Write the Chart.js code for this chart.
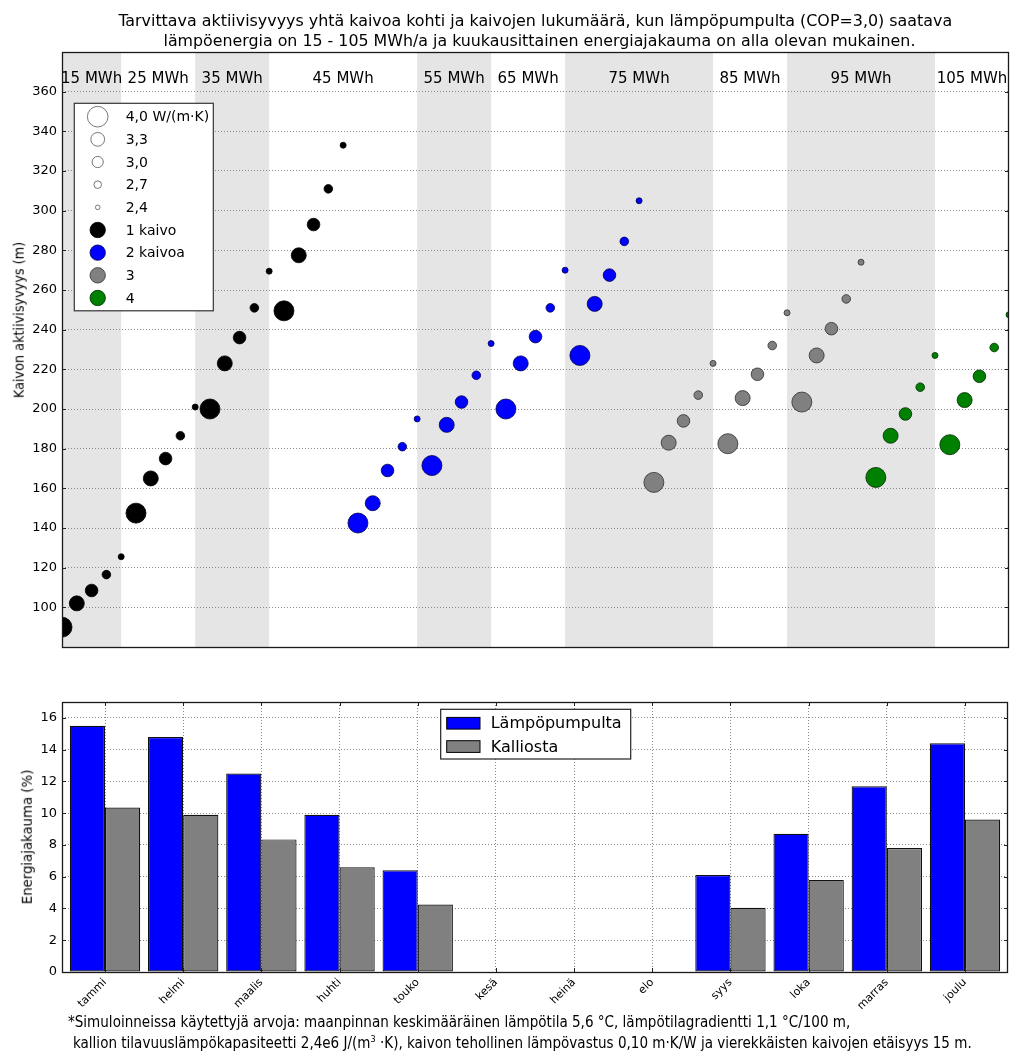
<!DOCTYPE html>
<html><head><meta charset="utf-8">
<script src="https://cdn.jsdelivr.net/npm/chart.js@4.4.1/dist/chart.umd.min.js"></script>
<style>
html,body{margin:0;padding:0;background:#fff;}
body{width:1024px;height:1057px;position:relative;overflow:hidden;}
canvas{position:absolute;left:0;}
.t{position:absolute;white-space:nowrap;color:#000;font-family:"DejaVu Sans Condensed","Liberation Sans Narrow","DejaVu Sans",sans-serif;font-stretch:condensed;line-height:1;left:0;top:0;}
.sp{font-size:60%;position:relative;top:-0.6em;}
</style></head><body>
<canvas id="top" width="1024" height="660" style="top:0"></canvas>
<canvas id="bot" width="1024" height="397" style="top:660px"></canvas>

<span class="t" data-w="834" data-cx="535" data-cy="21" style="font-size:16.5px">Tarvittava aktiivisyvyys yhtä kaivoa kohti ja kaivojen lukumäärä, kun lämpöpumpulta (COP=3,0) saatava</span>
<span class="t" data-w="752" data-cx="539" data-cy="41" style="font-size:16.5px">lämpöenergia on 15 - 105 MWh/a ja kuukausittainen energiajakauma on alla olevan mukainen.</span>
<span class="t" data-w="156" data-cx="18" data-cy="320" data-rot="-90" style="font-size:14px">Kaivon aktiivisyvyys (m)</span>
<span class="t" data-w="135" data-cx="27" data-cy="837" data-rot="-90" style="font-size:14px">Energiajakauma (%)</span>
<span class="t" data-w="782" data-lx="68" data-cy="1022" style="font-size:15px">*Simuloinneissa käytettyjä arvoja: maanpinnan keskimääräinen lämpötila 5,6 °C, lämpötilagradientti 1,1 °C/100 m,</span>
<span class="t" data-w="899" data-lx="73" data-cy="1043" style="font-size:15px">kallion tilavuuslämpökapasiteetti 2,4e6 J/(m<span class="sp">3</span> ·K), kaivon tehollinen lämpövastus 0,10 m·K/W ja vierekkäisten kaivojen etäisyys 15 m.</span>

<script>
// ---------------- DATA ----------------
const energyLevels = [15, 25, 35, 45, 55, 65, 75, 85, 95, 105];          // MWh/a
const conductivities = ['4,0 W/(m·K)', '3,3', '3,0', '2,7', '2,4'];
const wellLabels = ['1 kaivo', '2 kaivoa', '3', '4'];
// Each block = five points (one per conductivity), in plotting order
const blockEnergy = [15, 25, 35, 45, 45, 55, 65, 75, 75, 85, 95, 95, 105];
const blockWells  = [1, 1, 1, 1, 2, 2, 2, 2, 3, 3, 3, 4, 4];
const blockDepths = [
  [90, 102, 108.5, 116.5, 125.5],
  [147.5, 165, 175, 186.5, 201],
  [200, 223, 236, 251, 269.5],
  [249.5, 277.5, 293, 311, 333],
  [142.5, 152.5, 169, 181, 195],
  [171.5, 192, 203.5, 217, 233],
  [200, 223, 236.5, 251, 270],
  [227, 253, 267.5, 284.5, 305],
  [163, 183, 194, 207, 223],
  [182.5, 205.5, 217.5, 232, 248.5],
  [203.5, 227, 240.5, 255.5, 274],
  [165.5, 186.5, 197.5, 211, 227],
  [182, 204.5, 216.5, 231, 247.5]
];
const depthTicks = [100, 120, 140, 160, 180, 200, 220, 240, 260, 280, 300, 320, 340, 360];

const months = ['tammi','helmi','maalis','huhti','touko','kesä','heinä','elo','syys','loka','marras','joulu'];
const heatPump = [15.5, 14.8, 12.5, 9.9, 6.4, 0, 0, 0, 6.1, 8.7, 11.7, 14.4];   // Lämpöpumpulta
const fromRock = [10.35, 9.9, 8.35, 6.6, 4.25, 0, 0, 0, 4.05, 5.8, 7.8, 9.6];   // Kalliosta
const energyTicks = [0, 2, 4, 6, 8, 10, 12, 14, 16];

// ---------------- STYLE ----------------
const wellColors = ['#000000', '#0000ff', '#808080', '#008000'];
const wellEdges  = ['#000000', '#00004d', '#2e2e2e', '#002800'];
const markerRadius = [10, 7.5, 6.3, 4.3, 3];
const legendRadius = [10.3, 6.9, 5.6, 3.8, 2.3];
const PTS = 5;

Chart.defaults.font.family = '"DejaVu Sans", sans-serif';
Chart.defaults.color = '#000';

function wellDataset(w) {
  const pts = [], radii = [];
  blockDepths.forEach((depths, b) => {
    if (blockWells[b] !== w) return;
    depths.forEach((d, k) => { pts.push({x: b * PTS + k, y: d}); radii.push(markerRadius[k]); });
  });
  return {
    label: wellLabels[w - 1], data: pts, pointRadius: radii, pointHoverRadius: radii,
    pointBackgroundColor: wellColors[w - 1], pointBorderColor: wellEdges[w - 1],
    pointBorderWidth: 0.8, showLine: false, clip: 0
  };
}
function energyRange(e) {
  const first = blockEnergy.indexOf(e), last = blockEnergy.lastIndexOf(e);
  return [Math.max(0, first * PTS - 1), last * PTS + PTS - 1];
}

const frame = {
  id: 'frame',
  afterDraw(chart, args, opts) {
    const {ctx, chartArea: a} = chart;
    ctx.save();
    ctx.strokeStyle = '#222'; ctx.lineWidth = 1;
    const ys = chart.scales.y;
    opts.yTicks.forEach(v => {
      const y = Math.round(ys.getPixelForValue(v)) + 0.5;
      ctx.beginPath(); ctx.moveTo(a.left, y); ctx.lineTo(a.left + 4, y);
      ctx.moveTo(a.right, y); ctx.lineTo(a.right - 4, y); ctx.stroke();
    });
    if (opts.xTicks) {
      const xs = chart.scales.x;
      opts.xTicks.forEach(v => {
        const x = Math.round(xs.getPixelForValue(v)) + 0.5;
        ctx.beginPath(); ctx.moveTo(x, a.bottom); ctx.lineTo(x, a.bottom - 4);
        ctx.moveTo(x, a.top); ctx.lineTo(x, a.top + 4); ctx.stroke();
      });
    }
    ctx.lineWidth = 1.3; ctx.strokeStyle = '#1a1a1a';
    ctx.strokeRect(Math.round(a.left) + 0.5, Math.round(a.top) + 0.5, Math.round(a.right - a.left) - 1, Math.round(a.bottom - a.top));
    ctx.restore();
  }
};

const bands = {
  id: 'bands',
  beforeDraw(chart) {
    const {ctx, chartArea: a, scales: {x}} = chart;
    ctx.save();
    ctx.fillStyle = '#e5e5e5';
    energyLevels.forEach((e, n) => {
      if (n % 2) return;
      const [s, t] = energyRange(e);
      const x0 = x.getPixelForValue(s), x1 = x.getPixelForValue(t);
      ctx.fillRect(x0, a.top, x1 - x0, a.bottom - a.top);
    });
    ctx.restore();
  },
  afterDatasetsDraw(chart) {
    const {ctx, scales: {x, y}} = chart;
    ctx.save();
    ctx.font = '15px "DejaVu Sans"'; ctx.fillStyle = '#000';
    ctx.textAlign = 'center'; ctx.textBaseline = 'middle';
    energyLevels.forEach(e => {
      const [s, t] = energyRange(e);
      ctx.fillText(e + ' MWh', x.getPixelForValue((s + t) / 2), y.getPixelForValue(366.5));
    });
    ctx.restore();
  }
};

const topLegend = {
  id: 'topLegend',
  afterDraw(chart) {
    const {ctx, chartArea: a} = chart;
    const L = a.left + 12.3, T = a.top + 51.3, W = 139, H = 207.5;
    ctx.save();
    ctx.fillStyle = '#fff'; ctx.fillRect(L, T, W, H);
    ctx.strokeStyle = '#333'; ctx.lineWidth = 1.2; ctx.strokeRect(L, T, W, H);
    ctx.font = '14px "DejaVu Sans"'; ctx.textBaseline = 'middle'; ctx.textAlign = 'left';
    const rows = conductivities.map((c, k) => ({text: c, r: legendRadius[k], fill: '#fff', edge: '#555'}))
      .concat(wellLabels.map((w, j) => ({text: w, r: 7.7, fill: wellColors[j], edge: wellEdges[j]})));
    rows.forEach((row, n) => {
      const cy = T + 13.4 + n * 22.66;
      ctx.beginPath(); ctx.arc(L + 23.4, cy, row.r, 0, 2 * Math.PI);
      ctx.fillStyle = row.fill; ctx.fill();
      ctx.lineWidth = 0.8; ctx.strokeStyle = row.edge; ctx.stroke();
      ctx.fillStyle = '#000'; ctx.fillText(row.text, L + 51.4, cy + 1);
    });
    ctx.restore();
  }
};

const botLegend = {
  id: 'botLegend',
  afterDraw(chart) {
    const {ctx, chartArea: a} = chart;
    const L = a.left + 378.7, T = a.top + 7.3, W = 190, H = 49.7;
    ctx.save();
    ctx.fillStyle = '#fff'; ctx.fillRect(L, T, W, H);
    ctx.strokeStyle = '#222'; ctx.lineWidth = 1.2; ctx.strokeRect(L, T, W, H);
    ctx.font = '16px "DejaVu Sans"'; ctx.textBaseline = 'middle'; ctx.textAlign = 'left';
    chart.data.datasets.forEach((ds, n) => {
      const cy = T + 13.9 + n * 23.3;
      ctx.fillStyle = ds.backgroundColor; ctx.fillRect(L + 6, cy - 5.8, 33.3, 11.7);
      ctx.lineWidth = 1; ctx.strokeStyle = '#000'; ctx.strokeRect(L + 6, cy - 5.8, 33.3, 11.7);
      ctx.fillStyle = '#000'; ctx.fillText(ds.label, L + 50, cy + 1);
    });
    ctx.restore();
  }
};

const gridStyle = {color: '#8a8a8a', lineWidth: 1, drawTicks: false, borderDash: [1, 2]};

// ---------------- TOP CHART ----------------
new Chart(document.getElementById('top'), {
  type: 'scatter',
  data: {datasets: [1, 2, 3, 4].map(wellDataset)},
  options: {
    responsive: false, animation: false, devicePixelRatio: 1,
    layout: {padding: {left: 0, top: 52, right: 15, bottom: 13}},
    plugins: {legend: {display: false}, tooltip: {enabled: false},
              frame: {yTicks: depthTicks}},
    events: [],
    scales: {
      x: {type: 'linear', min: 0, max: blockEnergy.length * PTS - 1, display: false},
      y: {
        min: 80, max: 380,
        afterBuildTicks: s => { s.ticks = [80].concat(depthTicks, [380]).map(v => ({value: v})); },
        ticks: {callback: v => depthTicks.includes(v) ? String(v) : '', font: {size: 13}, padding: 5, color: '#000'},
        grid: gridStyle,
        border: {display: false, dash: [1, 2]},
        afterFit: s => { s.width = 62; }
      }
    }
  },
  plugins: [bands, frame, topLegend]
});

// ---------------- BOTTOM CHART ----------------
new Chart(document.getElementById('bot'), {
  type: 'bar',
  data: {datasets: [
    {label: 'Lämpöpumpulta', data: heatPump.map((v, i) => ({x: i, y: v})), backgroundColor: '#0000ff'},
    {label: 'Kalliosta', data: fromRock.map((v, i) => ({x: i, y: v})), backgroundColor: '#808080'}
  ].map(d => Object.assign(d, {borderColor: '#111', borderWidth: 1.2, borderSkipped: false, categoryPercentage: 0.9, barPercentage: 1}))},
  options: {
    responsive: false, animation: false, devicePixelRatio: 1,
    layout: {padding: {left: 0, top: 42, right: 16, bottom: 35}},
    plugins: {legend: {display: false}, tooltip: {enabled: false},
              frame: {yTicks: energyTicks, xTicks: months.map((m, i) => i)}},
    events: [],
    scales: {
      x: {
        type: 'linear', min: -0.55, max: months.length - 0.45, offset: false,
        afterBuildTicks: s => { s.ticks = months.map((m, i) => ({value: i})); },
        ticks: {callback: v => months[v] ?? '', autoSkip: false, maxRotation: 45, minRotation: 45, font: {size: 11}, padding: 4, color: '#000'},
        grid: Object.assign({offset: false}, gridStyle),
        border: {display: false, dash: [1, 2]},
        afterFit: s => { s.height = 50; }
      },
      y: {
        min: 0, max: 17,
        afterBuildTicks: s => { s.ticks = energyTicks.map(v => ({value: v})); },
        ticks: {font: {size: 13}, padding: 5, color: '#000'},
        grid: gridStyle,
        border: {display: false, dash: [1, 2]},
        afterFit: s => { s.width = 62; }
      }
    }
  },
  plugins: [frame, botLegend]
});

// ---------------- HTML TEXT PLACEMENT ----------------
function placeTexts() {
  document.querySelectorAll('.t').forEach(el => {
    el.style.transform = 'none';
    const w = el.offsetWidth, h = el.offsetHeight;
    const s = el.dataset.w ? (+el.dataset.w) / w : 1;
    const cy = +el.dataset.cy;
    el.style.top = (cy - h / 2) + 'px';
    if (el.dataset.lx !== undefined) {
      el.style.left = el.dataset.lx + 'px';
      el.style.transformOrigin = '0 50%';
      el.style.transform = `scaleX(${s})`;
    } else {
      const rot = el.dataset.rot ? +el.dataset.rot : 0;
      el.style.left = (+el.dataset.cx - w / 2) + 'px';
      el.style.transformOrigin = '50% 50%';
      el.style.transform = `rotate(${rot}deg) scaleX(${s})`;
    }
  });
}
placeTexts();
if (document.fonts && document.fonts.ready) document.fonts.ready.then(placeTexts);
</script>
</body></html>
